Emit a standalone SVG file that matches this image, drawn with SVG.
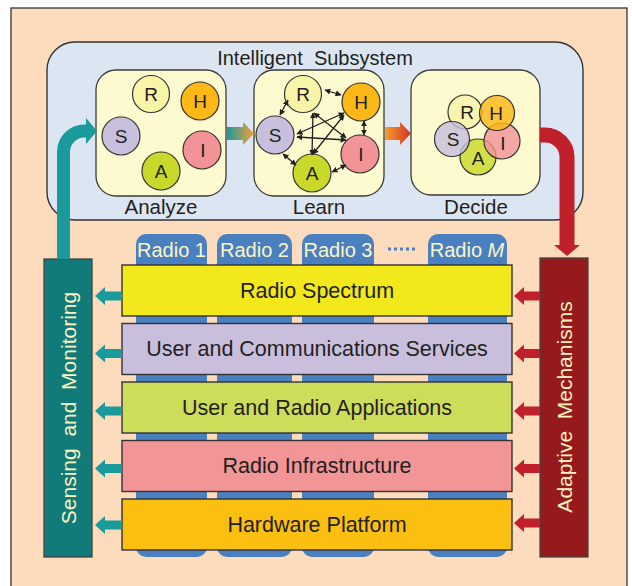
<svg xmlns="http://www.w3.org/2000/svg" width="632" height="586" viewBox="0 0 632 586">
<defs>
<style>
text{font-family:"Liberation Sans",Arial,sans-serif;fill:#231f20}
.box{fill:#fefad0;stroke:#3a3a3a;stroke-width:1.3}
.c{stroke:#333;stroke-width:1.2}
.L{font-size:19px;text-anchor:middle}
.lab{font-size:20.5px;text-anchor:middle}
.layer{stroke:#333;stroke-width:1.4}
.lt{font-size:21.5px;text-anchor:middle}
.tab{fill:#4a80c0}
.tt{font-size:20px;fill:#fdf5c4;text-anchor:middle}
.vt{font-size:21px;fill:#fdf3c0;text-anchor:middle}
.ln{stroke:#231f20;stroke-width:1.3;fill:none;marker-start:url(#ah);marker-end:url(#ah)}
.R{fill:#f8f4a8}.H{fill:#fbb817}.S{fill:#c8bfdd}.I{fill:#f29497}.A{fill:#c9d82b}
.teal{fill:#1a9a9a}.red{fill:#c0202a}
</style>
<marker id="ah" viewBox="0 0 10 10" refX="9" refY="5" markerWidth="6" markerHeight="6" markerUnits="userSpaceOnUse" orient="auto-start-reverse">
<path d="M0 0L10 5L0 10z" fill="#231f20"/>
</marker>
<linearGradient id="g1" x1="0" x2="1" y1="0" y2="0"><stop offset="0" stop-color="#1a9a9a"/><stop offset="1" stop-color="#f5a03c"/></linearGradient>
<linearGradient id="g2" x1="0" x2="1" y1="0" y2="0"><stop offset="0" stop-color="#f5a030"/><stop offset="1" stop-color="#d23222"/></linearGradient>
</defs>
<rect x="0" y="0" width="632" height="586" fill="#ffffff"/>
<rect id="frame" x="11" y="8" width="616" height="590" fill="#fddcbd" stroke="#333" stroke-width="1.3"/>

<g id="intelligent-subsystem">
<rect x="47" y="42" width="536" height="178" rx="28" fill="#dce6f3" stroke="#333" stroke-width="1.4"/>
<text x="315" y="65" font-size="20" text-anchor="middle">Intelligent&#160; Subsystem</text>
</g>

<g id="analyze">
<rect class="box" x="96" y="70" width="130" height="126" rx="20"/>
<circle class="c R" cx="151" cy="94" r="18.5"/>
<circle class="c H" cx="200" cy="101" r="19"/>
<circle class="c S" cx="121" cy="136" r="19"/>
<circle class="c I" cx="202" cy="150" r="19"/>
<circle class="c A" cx="161" cy="171" r="19"/>
<text class="L" x="151" y="101">R</text>
<text class="L" x="200" y="108">H</text>
<text class="L" x="121" y="143">S</text>
<text class="L" x="203" y="157">I</text>
<text class="L" x="161" y="178">A</text>
<text class="lab" x="161" y="214">Analyze</text>
</g>

<g id="learn">
<rect class="box" x="254" y="70" width="130" height="126" rx="20"/>
<circle class="c R" cx="303" cy="94" r="18.5"/>
<circle class="c H" cx="361" cy="102" r="19"/>
<circle class="c S" cx="275" cy="135" r="19"/>
<circle class="c I" cx="360" cy="154" r="19"/>
<circle class="c A" cx="312" cy="173" r="19"/>
<text class="L" x="303" y="101">R</text>
<text class="L" x="361" y="109">H</text>
<text class="L" x="275" y="142">S</text>
<text class="L" x="361" y="161">I</text>
<text class="L" x="312" y="180">A</text>
<text class="lab" x="319" y="214">Learn</text>
</g>

<g id="decide">
<rect class="box" x="411" y="70" width="129" height="125" rx="20"/>
<g fill-opacity="0.82">
<circle class="c R" cx="465" cy="112" r="17"/>
<circle class="c A" cx="478" cy="157" r="18"/>
<circle class="c S" cx="452" cy="139" r="17.5"/>
<circle class="c I" cx="502" cy="141" r="18"/>
<circle class="c H" cx="497" cy="113" r="17.5"/>
</g>
<text class="L" x="467" y="119">R</text>
<text class="L" x="496" y="120">H</text>
<text class="L" x="453" y="146">S</text>
<text class="L" x="503" y="150">I</text>
<text class="L" x="478" y="165">A</text>
<text class="lab" x="476" y="214">Decide</text>
</g>

<g id="radios">
<rect class="tab" x="136" y="234" width="71" height="323" rx="10"/>
<rect class="tab" x="217" y="234" width="75" height="323" rx="10"/>
<rect class="tab" x="302" y="234" width="72" height="323" rx="10"/>
<rect class="tab" x="428" y="234" width="79" height="323" rx="10"/>
<text class="tt" x="171.5" y="257">Radio 1</text>
<text class="tt" x="254.5" y="257">Radio 2</text>
<text class="tt" x="338" y="257">Radio 3</text>
<text class="tt" x="467" y="257">Radio <tspan font-style="italic">M</tspan></text>
<line x1="388" y1="249" x2="416" y2="249" stroke="#4a80c0" stroke-width="3" stroke-dasharray="3 3"/>
</g>

<g id="layers">
<rect class="layer" x="122" y="265" width="390" height="51" fill="#f2e81c"/>
<text class="lt" x="317" y="297.5">Radio Spectrum</text>
<rect class="layer" x="122" y="323.5" width="390" height="51" fill="#c9bfdc"/>
<text class="lt" x="317" y="356">User and Communications Services</text>
<rect class="layer" x="122" y="382" width="390" height="51" fill="#cddc5a"/>
<text class="lt" x="317" y="414.5">User and Radio Applications</text>
<rect class="layer" x="122" y="440.5" width="390" height="51" fill="#f29597"/>
<text class="lt" x="317" y="473">Radio Infrastructure</text>
<rect class="layer" x="122" y="499" width="390" height="51" fill="#fbbf12"/>
<text class="lt" x="317" y="531.5">Hardware Platform</text>
</g>

<g id="sensing">
<rect x="44" y="259" width="48" height="298" fill="#107b78" stroke="#444" stroke-width="1.3"/>
<text class="vt" transform="translate(75.5,408) rotate(-90)">Sensing&#160; and&#160; Monitoring</text>
</g>

<g id="adaptive">
<rect x="540" y="258" width="48" height="299" fill="#96191e" stroke="#444" stroke-width="1.3"/>
<text class="vt" transform="translate(571.5,407) rotate(-90)">Adaptive&#160; Mechanisms</text>
</g>

<g id="connectors">
<path d="M63.5 259V152A21 21 0 0 1 84.5 131H88" fill="none" stroke="#1a9a9a" stroke-width="13"/>
<path d="M86 118L97 131L86 144z" class="teal"/>
<path d="M540 135H545A22 22 0 0 1 567 157V246" fill="none" stroke="#c0202a" stroke-width="15"/>
<path d="M554 245H580L567 256z" class="red"/>
<path d="M227 127H243V122L254 133.5L243 145V140H227z" fill="url(#g1)"/>
<path d="M385 127H400V122L411 133.5L400 145V140H385z" fill="url(#g2)"/>
<line class="ln" x1="325" y1="90" x2="341" y2="95"/>
<line class="ln" x1="288" y1="100" x2="280" y2="115"/>
<line class="ln" x1="364" y1="121" x2="364" y2="135"/>
<line class="ln" x1="283" y1="154" x2="296" y2="165"/>
<line class="ln" x1="332" y1="172" x2="346" y2="165"/>
<line class="ln" x1="297" y1="134" x2="344" y2="113"/>
<line class="ln" x1="297" y1="137" x2="346" y2="140"/>
<line class="ln" x1="313" y1="113" x2="312" y2="155"/>
<line class="ln" x1="314" y1="113" x2="346" y2="138"/>
<line class="ln" x1="344" y1="115" x2="313" y2="154"/>
<g class="teal">
<path d="M122 291.5H105V287L95 296L105 305V300.5H122z"/>
<path d="M122 349H105V344.5L95 353.5L105 362.5V358H122z"/>
<path d="M122 406.5H105V402L95 411L105 420V415.5H122z"/>
<path d="M122 464H105V459.5L95 468.5L105 477.5V473H122z"/>
<path d="M122 520.5H105V516L95 525L105 534V529.5H122z"/>
</g>
<g class="red">
<path d="M540 291.5H524V287L514 296L524 305V300.5H540z"/>
<path d="M540 349H524V344.5L514 353.5L524 362.5V358H540z"/>
<path d="M540 406.5H524V402L514 411L524 420V415.5H540z"/>
<path d="M540 464H524V459.5L514 468.5L524 477.5V473H540z"/>
<path d="M540 518.5H524V514L514 523L524 532V527.5H540z"/>
</g>
</g>
</svg>
